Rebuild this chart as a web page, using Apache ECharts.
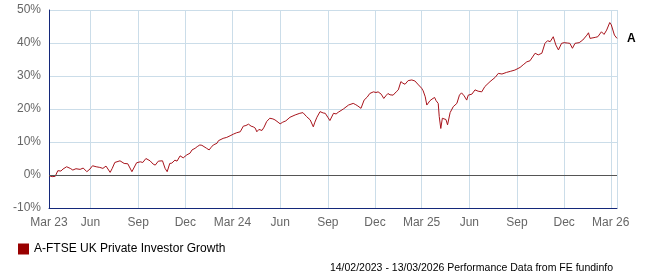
<!DOCTYPE html>
<html>
<head>
<meta charset="utf-8">
<script src="https://cdn.jsdelivr.net/npm/echarts@6/dist/echarts.min.js"></script>
<style>
html,body{margin:0;padding:0;background:#fff;}
#chart{width:647px;height:280px;}
</style>
</head>
<body>
<div id="chart"></div>
<script>
const seriesName = 'A-FTSE UK Private Investor Growth';
const footerText = '14/02/2023 - 13/03/2026 Performance Data from FE fundinfo';
const endLabelText = 'A';
const axisStart = '2023-03-13';
const axisEnd = '2026-03-13';
const tickDates = ['2023-03-13','2023-06-01','2023-09-01','2023-12-01','2024-03-01','2024-06-01','2024-09-01','2024-12-01','2025-03-01','2025-06-01','2025-09-01','2025-12-01','2026-03-01'];
const tickLabels = ['Mar 23','Jun','Sep','Dec','Mar 24','Jun','Sep','Dec','Mar 25','Jun','Sep','Dec','Mar 26'];
const gridDates = ['2023-06-01','2023-09-01','2023-12-01','2024-03-01','2024-06-01','2024-09-01','2024-12-01','2025-03-01','2025-06-01','2025-09-01','2025-12-01','2026-03-01','2026-03-13'];
const yMin = -10, yMax = 50, yStep = 10;

const dates = [
'2023-03-13','2023-03-19','2023-03-25','2023-03-30','2023-04-05','2023-04-09','2023-04-16','2023-04-23','2023-04-28','2023-05-04',
'2023-05-12','2023-05-18','2023-05-25','2023-05-31','2023-06-05','2023-06-12','2023-06-19','2023-06-25','2023-07-01','2023-07-09',
'2023-07-13','2023-07-18','2023-07-28','2023-08-05','2023-08-12','2023-08-20','2023-08-29','2023-09-05','2023-09-10','2023-09-16',
'2023-09-24','2023-09-30','2023-10-04','2023-10-10','2023-10-18','2023-10-23','2023-10-27','2023-11-01','2023-11-05','2023-11-11',
'2023-11-15','2023-11-21','2023-11-27','2023-11-30','2023-12-04','2023-12-10','2023-12-14','2023-12-20','2023-12-24','2023-12-29',
'2024-01-02','2024-01-06','2024-01-11','2024-01-16','2024-01-20','2024-01-24','2024-01-31','2024-02-03','2024-02-06','2024-02-12',
'2024-02-19','2024-02-22','2024-02-27','2024-03-03','2024-03-09','2024-03-16','2024-03-22','2024-03-27','2024-04-01','2024-04-06',
'2024-04-10','2024-04-14','2024-04-17','2024-04-21','2024-04-27','2024-05-01','2024-05-06','2024-05-12','2024-05-18','2024-05-22',
'2024-05-28','2024-06-01','2024-06-06','2024-06-12','2024-06-20','2024-06-30','2024-07-09','2024-07-15','2024-07-22','2024-07-25',
'2024-07-29','2024-08-04','2024-08-07','2024-08-11','2024-08-17','2024-08-23','2024-08-27','2024-09-01','2024-09-05','2024-09-12',
'2024-09-17','2024-09-21','2024-10-01','2024-10-11','2024-10-20','2024-10-25','2024-10-29','2024-11-04','2024-11-10','2024-11-16',
'2024-11-21','2024-11-28','2024-12-03','2024-12-07','2024-12-13','2024-12-18','2024-12-22','2024-12-26','2024-12-30','2025-01-05',
'2025-01-11','2025-01-15','2025-01-20','2025-01-24','2025-01-28','2025-02-03','2025-02-10','2025-02-16','2025-02-23','2025-03-01',
'2025-03-04','2025-03-08','2025-03-11','2025-03-14','2025-03-17','2025-03-21','2025-03-26','2025-03-29','2025-04-02','2025-04-04',
'2025-04-07','2025-04-10','2025-04-13','2025-04-17','2025-04-20','2025-04-25','2025-05-01','2025-05-08','2025-05-13','2025-05-17',
'2025-05-22','2025-05-27','2025-05-30','2025-06-06','2025-06-12','2025-06-18','2025-06-25','2025-07-01','2025-07-11','2025-07-21',
'2025-07-27','2025-08-03','2025-08-12','2025-08-19','2025-08-28','2025-09-07','2025-09-13','2025-09-20','2025-09-26','2025-10-06',
'2025-10-12','2025-10-19','2025-10-25','2025-10-30','2025-11-04','2025-11-10','2025-11-15','2025-11-20','2025-11-26','2025-12-01',
'2025-12-07','2025-12-12','2025-12-17','2025-12-22','2025-12-30','2026-01-06','2026-01-14','2026-01-17','2026-01-20','2026-01-30',
'2026-02-04','2026-02-11','2026-02-16','2026-02-21','2026-02-27','2026-03-02','2026-03-08','2026-03-11','2026-03-13'
];
const values = [
-0.2,-0.5,-0.4,1.3,1.2,1.8,2.5,2.0,1.5,1.9,
1.7,2.1,1.0,1.8,2.8,2.5,2.3,2.0,2.7,0.8,
2.0,3.8,4.3,3.5,3.4,1.0,3.7,4.0,3.8,5.0,
4.3,3.3,3.0,4.2,4.3,2.0,1.0,3.5,3.6,4.5,
4.2,5.8,5.2,5.0,6.1,6.6,7.6,8.1,8.6,9.1,
9.0,8.6,8.1,7.6,8.4,9.1,9.6,10.4,10.8,11.1,
11.4,11.8,12.0,12.4,12.8,13.1,14.8,15.0,15.4,14.8,
14.6,14.2,13.1,13.8,13.5,14.5,16.2,17.2,17.0,16.7,
16.0,15.5,16.0,16.4,17.5,18.2,18.7,18.9,17.7,17.8,
16.7,14.6,16.0,17.5,19.2,18.8,18.7,17.5,16.5,18.7,
18.5,19.0,20.0,21.2,21.7,21.3,20.9,20.2,22.7,23.6,
24.7,25.2,25.0,25.2,24.5,23.2,24.0,24.7,24.3,24.2,
25.2,25.8,28.3,27.8,27.5,28.6,28.8,28.5,27.3,26.3,
25.5,23.7,21.2,21.0,22.5,23.0,23.5,22.5,21.7,17.7,
14.1,17.2,17.2,16.8,15.2,18.9,20.7,21.7,24.2,24.9,
24.0,22.7,24.2,24.5,25.8,25.4,25.2,26.8,28.3,29.6,
30.8,30.6,31.1,31.4,31.8,32.6,33.4,34.3,34.6,36.9,
36.4,36.9,39.9,40.7,40.4,41.9,39.4,37.9,39.9,40.1,
40.0,39.9,38.4,39.9,40.1,40.9,42.4,43.1,41.4,41.7,
41.9,43.4,42.6,43.9,46.2,45.5,42.4,41.9,41.4
];

function ts(s){ const p = s.split('-'); return Date.UTC(+p[0], +p[1]-1, +p[2]); }
const tickTs = tickDates.map(ts);
const gridTs = gridDates.map(ts);
const data = dates.map((d,i)=>[ts(d), values[i]]);

const chart = echarts.init(document.getElementById('chart'), null, {renderer:'canvas'});
const font = 'Arial, "Liberation Sans", sans-serif';
chart.setOption({
  animation: false,
  backgroundColor: '#fff',
  grid: {left: 49, right: 30, top: 10, bottom: 72, containLabel: false},
  title: {
    text: footerText, right: 34, top: 263, padding: 0,
    textStyle: {fontSize: 10.5, fontWeight: 'normal', color: '#000', fontFamily: font}
  },
  legend: {
    left: 13, top: 238, icon: 'rect', itemWidth: 11, itemHeight: 11, itemGap: 10,
    textStyle: {fontSize: 12, color: '#000', fontFamily: font},
    data: [seriesName]
  },
  xAxis: {
    type: 'value', min: ts(axisStart), max: ts(axisEnd), scale: true,
    axisLine: {show: true, onZero: false, lineStyle: {color: '#14287a', width: 1}},
    axisTick: {show: false, customValues: gridTs},
    splitLine: {show: true, lineStyle: {color: '#cbdde9', width: 1}},
    axisLabel: {
      customValues: tickTs, margin: 9, fontSize: 12, color: '#666', fontFamily: font,
      showMinLabel: true, showMaxLabel: true, hideOverlap: false,
      formatter: function(v){ const i = tickTs.indexOf(v); return i >= 0 ? tickLabels[i] : ''; }
    }
  },
  yAxis: {
    type: 'value', min: yMin, max: yMax, interval: yStep,
    axisLine: {show: true, lineStyle: {color: '#14287a', width: 1}},
    axisTick: {show: false},
    splitLine: {show: true, lineStyle: {color: '#cbdde9', width: 1}},
    axisLabel: {margin: 8, fontSize: 12, color: '#666', fontFamily: font, formatter: '{value}%'}
  },
  series: [{
    name: seriesName, type: 'line', data: data, showSymbol: false, symbol: 'none',
    color: '#990000',
    lineStyle: {color: '#a8141c', width: 1},
    endLabel: {show: true, formatter: endLabelText, distance: 10, fontSize: 12, fontWeight: 'bold', color: '#000', fontFamily: font},
    markLine: {
      silent: true, symbol: 'none', label: {show: false}, animation: false,
      lineStyle: {color: '#555', type: 'solid', width: 1},
      data: [{yAxis: 0}]
    },
    z: 3
  }]
});
</script>
</body>
</html>
